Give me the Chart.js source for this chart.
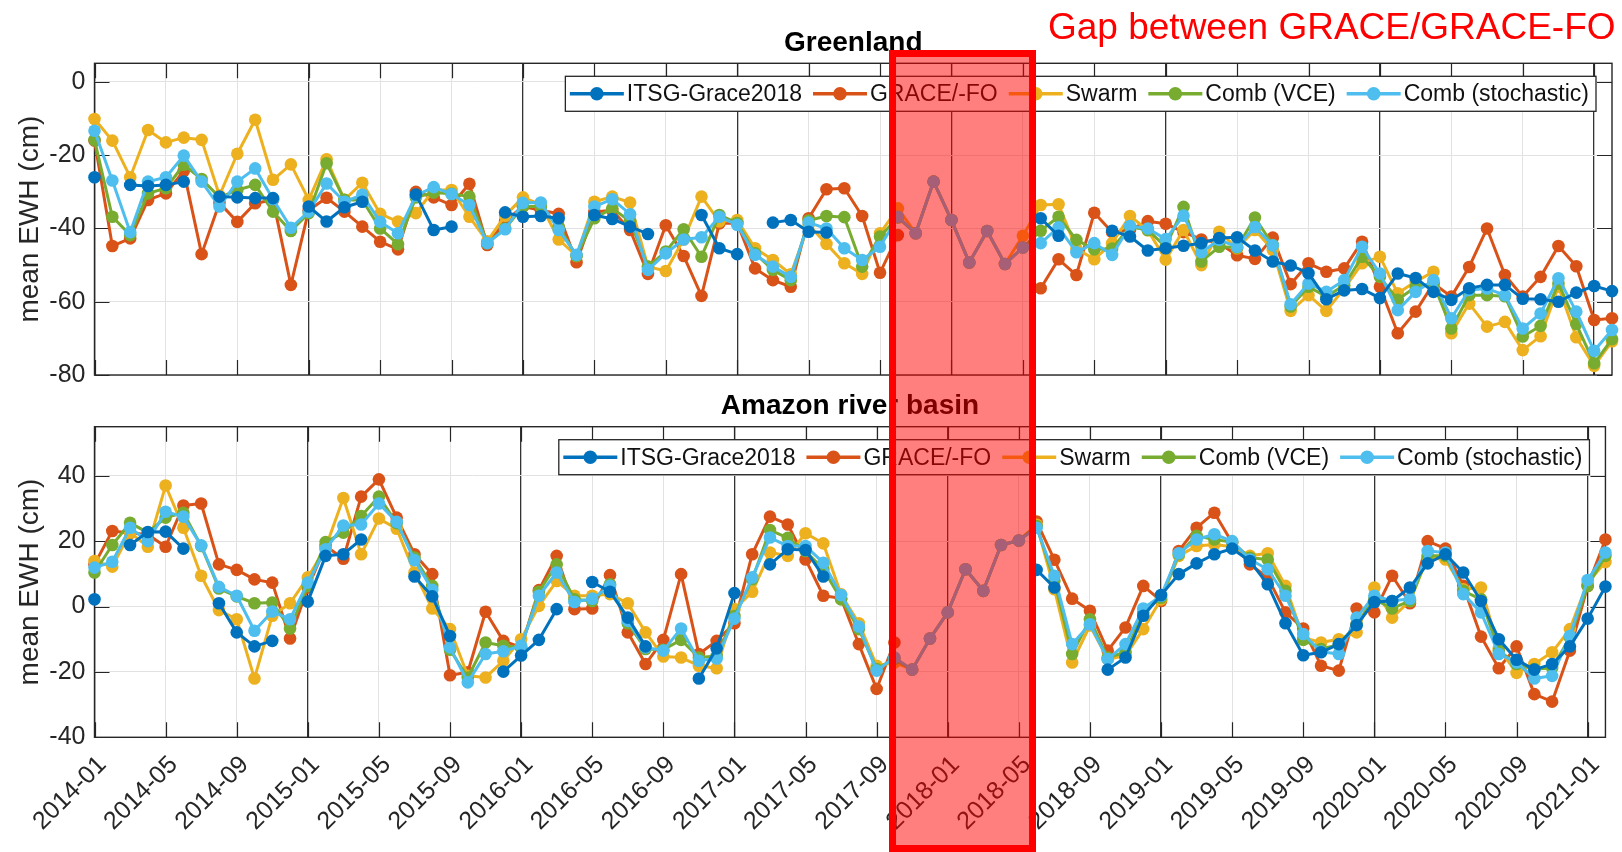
<!DOCTYPE html>
<html>
<head>
<meta charset="utf-8">
<script src="https://cdn.jsdelivr.net/npm/chart.js@4.4.1/dist/chart.umd.min.js"></script>
<style>
  html, body { margin: 0; padding: 0; background: #fff; }
  #wrap { position: relative; width: 1622px; height: 852px; overflow: hidden; background: #fff; }
  #wrap canvas { position: absolute; left: 0; }
  #greenland { top: 0; }
  #amazon { top: 365px; }
  #gap {
    position: absolute; left: 889px; top: 50px; width: 147px; height: 802px;
    box-sizing: border-box; border: 7.5px solid #ff0000; background: rgba(255, 0, 0, 0.5);
  }
</style>
</head>
<body>
<div id="wrap">
  <canvas id="greenland" width="1622" height="400" style="width:1622px;height:400px"></canvas>
  <canvas id="amazon" width="1622" height="487" style="width:1622px;height:487px"></canvas>
  <div id="gap"></div>
</div>
<script>
// monthly solutions, index 0 = 2014-01 ... 85 = 2021-02
const tickLabels = ['2014-01', '2014-05', '2014-09', '2015-01', '2015-05', '2015-09',
  '2016-01', '2016-05', '2016-09', '2017-01', '2017-05', '2017-09', '2018-01', '2018-05',
  '2018-09', '2019-01', '2019-05', '2019-09', '2020-01', '2020-05', '2020-09', '2021-01'];
const tickMonths = tickLabels.map((_, i) => i * 4);
const lastMonth = 85;

const seriesNames = ['ITSG-Grace2018', 'GRACE/-FO', 'Swarm', 'Comb (VCE)', 'Comb (stochastic)'];
const seriesColors = ['#0072BD', '#D95319', '#EDB120', '#77AC30', '#4DBEEE'];
const drawOrder = [0, 4, 3, 2, 1];

// Greenland mean EWH (cm)
const itsgGreenland = [-26, null, -28.1, -28.4, -28.1, -27.2, null, -31.3, -31.5, -31.7,
  -31.7, null, -34, -38.1, -34.2, -32.7, null, null, -30.7, -40.4,
  -39.5, null, null, -35.6, -36.8, -36.6, -37.2, null, -36.3, -37.4,
  -39.5, -41.5, null, null, -36.3, -45.4, -47, null, -38.4, -37.7,
  -40.9, -41.1, null, null, null, null, null, null, null, null,
  null, null, null, -37.2, -42, null, null, -40.6, -42.2, -46,
  -45.4, -44.7, -44, -42.6, -42.4, -46, -49, -50.1, -52.2, -59.3,
  -56.9, -56.5, -59, -52.3, -53.5, -57.3, -59.5, -56.3, -55.4, -55.4,
  -59.2, -59.3, -60, -57.5, -55.7, -57.1];
const graceGreenland = [-16, -44.8, -42.7, -32.2, -30.4, -24.3, -47, -33, -38.2, -33.1,
  -32.2, -55.4, -35, -31.6, -35.4, -39.5, -43.6, -45.7, -30, -31.5,
  -33.6, -27.8, -44.5, -38, -34, -35, -36, -49.2, -35.5, -35,
  -40.4, -52.4, -39.1, -47.5, -58.4, -38.6, -38.5, -50.9, -54.1, -55.9,
  -37.2, -29.3, -29, -36.6, -52.1, -41.8, null, null, null, null,
  null, null, null, -56.3, -48.4, -52.7, -35.7, -41, -40.4, -38,
  -38.7, -41, -43, -44, -47.3, -48.3, -42.5, -55.2, -49.5, -51.8,
  -50.9, -43.6, -55.9, -68.6, -62.7, -55, -58.6, -50.5, -40, -52.7,
  -58.6, -53.2, -44.8, -50.3, -65, -64.5];
const swarmGreenland = [-10.1, -16, -26, -13.1, -16.5, -15.2, -15.8, -31, -19.6, -10.3,
  -26.7, -22.5, -32.2, -21.1, -32.2, -27.5, -36, -38.1, -35.8, -29.5,
  -29.5, -36.8, -43.5, -36.5, -31.5, -33.5, -43, -47.5, -32.7, -31.3,
  -32.9, -50.4, -51.6, -43, -31.3, -38.1, -37.7, -45.4, -48.6, -52.5,
  -39, -44.2, -49.5, -52.4, -41.3, -34.5, -41.3, -27.2, -37.7, -49.3,
  -40.7, -49.7, -42, -33.6, -33.4, -45.5, -48.4, -44, -36.6, -40.5,
  -48.5, -40.4, -50, -40.9, -45.4, -40.4, -45.9, -62.5, -58.2, -62.5,
  -56.4, -49.5, -47.7, -57.7, -54.5, -51.8, -68.6, -60.5, -66.8, -65.5,
  -73.2, -69.4, -55.9, -69.7, -77.5, -70.8];
const vceGreenland = [-15.8, -36.8, -41.8, -30.4, -29, -22.6, -26.5, -31.5, -29.5, -28.1,
  -35.4, -40.7, -35.8, -22.2, -32.2, -32.2, -40, -44.3, -31.5, -30.2,
  -30.5, -31.3, -44, -40, -34, -34, -39.5, -47.5, -37.2, -34.5,
  -38, -50.4, -46.3, -40.2, -47.7, -36.3, -38.5, -46.8, -51.3, -54.1,
  -37.8, -36.6, -36.9, -50.4, -42.2, -37, -41.3, -27.2, -37.7, -49.3,
  -40.7, -49.7, -45.2, -40.6, -36.8, -43.1, -45.7, -45.5, -39.5, -40.4,
  -45, -34.1, -49, -45, -45.2, -37, -44.5, -61.3, -55.9, -58.6,
  -55.5, -47.7, -53.2, -59.5, -55.9, -55, -67.3, -58.2, -58.2, -58.5,
  -69.5, -66.6, -55, -66.1, -76.8, -70.2];
const stochGreenland = [-13.3, -26.9, -41, -27.2, -26, -20.1, -27.2, -34, -27.2, -23.6,
  -32, -39.8, -35.4, -27.7, -32.7, -30.8, -38.2, -41.3, -31, -28.7,
  -30.6, -33.6, -44, -40.2, -33, -32.9, -40.4, -47.2, -34, -32,
  -36.1, -51.3, -46.8, -43, -42.4, -36.8, -39, -47.2, -50.4, -53.2,
  -38.4, -40, -45.4, -48.6, -45, -36.8, -41.3, -27.2, -37.7, -49.3,
  -40.7, -49.7, -45.2, -44, -39.7, -46.5, -44, -47.2, -39.3, -40,
  -42.9, -36.5, -46.5, -43.1, -45, -39.6, -44.6, -60.7, -55, -57.3,
  -54.1, -45, -52.3, -62.3, -57.3, -54.1, -64.5, -56.8, -56.4, -58.2,
  -67.3, -63.2, -53.6, -62.7, -73.4, -67.7];

// Amazon river basin mean EWH (cm)
const itsgAmazon = [2.2, null, 18.8, 22.8, 22.9, 17.7, null, 1, -7.9, -12.2,
  -10.5, null, 1.5, 15.5, 16, 20.5, null, null, 9.2, 3.1,
  -9, null, null, -19.9, -15, -10.2, -0.8, null, 7.5, 4.5,
  -3.4, -12.2, null, null, -22, -12.8, 4.1, null, 12.9, 17.5,
  17.3, 9.2, null, null, null, null, null, null, null, null,
  null, null, null, 11.2, 5.8, null, null, -19.3, -15.6, -2.8,
  3.5, 9.9, 13.2, 16, 17.7, 13.9, 6.8, -5.1, -14.9, -14,
  -11.5, -5.7, 1.4, 1.7, 5.8, 13.2, 16, 10.4, 1.7, -10,
  -16.3, -19.3, -17.6, -12.2, -3.7, 6.1];
const graceAmazon = [12.9, 23.1, 22.5, 22, 18.3, 30.9, 31.5, 12.9, 11.2, 8.3,
  7.3, -9.8, 5.8, 18.5, 14.6, 33.6, 38.9, 27.2, 16, 9.9,
  -21, -20.1, -1.6, -10.5, -12.5, 5, 15.5, -0.8, -0.6, 9.6,
  -7.9, -17.6, -10.2, 9.9, -14.5, -10.5, -5.1, 16, 27.5, 25.1,
  14.4, 3.3, 2.5, -11.5, -25.2, -11, null, null, null, null,
  null, null, null, 26, 14.3, 2.4, -1.3, -13.5, -6.4, 6.3,
  1.7, 17, 24.1, 28.7, 19.5, 12.9, 8.9, -1.8, -6.7, -18.1,
  -19.6, -0.6, -1.8, 9.4, 1, 20, 17.7, 6.3, -9.2, -18.9,
  -12.2, -26.8, -29.1, -13.5, 6.3, 20.5];
const swarmAmazon = [13.9, 12.2, 22.6, 18.3, 37, 24.1, 9.4, -1.1, -3.9, -22,
  -2.8, 1, 8.9, 18, 33.2, 16, 26.9, 23.8, 10.4, -0.6,
  -6.9, -21.2, -21.7, -16.6, -10, 0.2, 7.8, 3.3, 3.3, 3.8,
  1, -7.9, -15.3, -15.6, -18.1, -18.9, -0.8, 4.5, 16.5, 15.5,
  22.4, 19.3, 3.7, -5.1, -18.1, -17.1, -19.3, -9.8, -1.8, 11.4,
  4.8, 18.8, 20.2, 25, 5.3, -17.1, -5.8, -16.1, -15, -6.9,
  2.2, 15.5, 18.5, 19, 18.3, 15.5, 16.3, 6.3, -9.5, -11,
  -10, -7.9, 5.8, -3.4, 1.7, 15, 14.4, 5.3, 5.8, -12.8,
  -20.3, -17.6, -14, -6.9, 7.3, 13.6];
const vceAmazon = [10.4, 18.8, 25.6, 22.6, 27.2, 28.7, 18.5, 5.5, 3.1, 1,
  1.2, -6.7, 6.3, 19.7, 22.6, 27.7, 33.6, 25.5, 15, 6.3,
  -13.2, -21.7, -11, -12, -12.5, 4.5, 12.9, 2.2, 1.7, 6.8,
  -5.1, -13, -13.2, -10.2, -15.6, -15.1, -2.9, 8.3, 23.4, 21,
  17, 11.4, 2.2, -6.9, -19.1, -16, -19.3, -9.8, -1.8, 11.4,
  4.8, 18.8, 20.2, 24.6, 7.9, -14.5, -3.9, -15.6, -14, -1.8,
  2.7, 16, 21.6, 20.5, 19.7, 14.9, 14.4, 4.8, -10.2, -13,
  -11.7, -5.4, 2.2, -0.6, 1.7, 15.5, 15.5, 4.8, 2.2, -13.5,
  -17.6, -19.1, -18.8, -9.5, 6.3, 15.5];
const stochAmazon = [11.9, 13.7, 24.1, 20, 29, 27.5, 18.7, 6, 3.3, -7.4,
  -1.5, -3.9, 7.3, 17.5, 24.8, 25.1, 31.5, 25.9, 14.2, 5.1,
  -12.5, -23.2, -14.5, -13.7, -12, 3.3, 10.4, 1.4, 2.4, 6.3,
  -4.4, -12.5, -13.5, -6.7, -16.6, -15.9, -3.7, 8.9, 21.1, 18.5,
  18.5, 13.4, 3.5, -6.1, -19.6, -15.6, -19.3, -9.8, -1.8, 11.4,
  4.8, 18.8, 20.2, 24.1, 9.4, -11.5, -5.4, -16.1, -11.5, -0.6,
  3.3, 16.3, 20.5, 22.1, 20, 14.4, 11.4, 3.3, -8.4, -13.8,
  -14.5, -3.4, 3.3, 1.7, 2.4, 17, 16.5, 3.8, -1.8, -14.5,
  -17.1, -22, -21.2, -9, 8.1, 16.5];

const FONT = '"Liberation Sans", Arial, Helvetica, sans-serif';
const AXIS_COLOR = '#262626';

// axes box, inward tick marks, title, y label and the boxed legend
function panelDecor(title) {
  return {
    id: 'panelDecor',
    beforeDatasetsDraw(chart) {
      const { ctx, chartArea: a, scales } = chart;
      ctx.save();
      ctx.strokeStyle = AXIS_COLOR;
      ctx.lineWidth = 1.2;
      const tl = 15;
      ctx.beginPath();
      scales.x.ticks.forEach(t => {
        const x = Math.round(scales.x.getPixelForValue(t.value)) + 0.5;
        ctx.moveTo(x, a.bottom); ctx.lineTo(x, a.bottom - tl);
        ctx.moveTo(x, a.top); ctx.lineTo(x, a.top + tl);
      });
      scales.y.ticks.forEach(t => {
        const y = Math.round(scales.y.getPixelForValue(t.value)) + 0.5;
        ctx.moveTo(a.left, y); ctx.lineTo(a.left + tl, y);
        ctx.moveTo(a.right, y); ctx.lineTo(a.right - tl, y);
      });
      ctx.stroke();
      ctx.lineWidth = 1.4;
      ctx.strokeRect(a.left, a.top, a.right - a.left, a.bottom - a.top);
      ctx.restore();
    },
    afterDatasetsDraw(chart) {
      const { ctx, chartArea: a } = chart;
      ctx.save();
      // title
      ctx.fillStyle = '#000';
      ctx.font = 'bold 28px ' + FONT;
      ctx.textAlign = 'center';
      ctx.textBaseline = 'alphabetic';
      ctx.fillText(title, (a.left + a.right) / 2, a.top - 12.5);
      // y label
      ctx.font = '28px ' + FONT;
      ctx.fillStyle = AXIS_COLOR;
      ctx.translate(30, (a.top + a.bottom) / 2);
      ctx.rotate(-Math.PI / 2);
      ctx.textBaseline = 'middle';
      ctx.fillText('mean EWH (cm)', 0, 0);
      ctx.restore();

      // legend
      ctx.save();
      ctx.font = '23px ' + FONT;
      const lineLen = 54, textGap = 3, entryGap = 11, padL = 4.5, padR = 7, h = 35;
      const widths = seriesNames.map(n => ctx.measureText(n).width);
      let total = padL + padR + entryGap * (seriesNames.length - 1);
      widths.forEach(w => { total += lineLen + textGap + w; });
      const right = a.right - 16;
      const left = right - total;
      const top = a.top + 13;
      ctx.fillStyle = '#fff';
      ctx.fillRect(left, top, total, h);
      ctx.strokeStyle = AXIS_COLOR;
      ctx.lineWidth = 1.3;
      ctx.strokeRect(left, top, total, h);
      const cy = top + h / 2;
      let x = left + padL;
      seriesNames.forEach((name, i) => {
        ctx.strokeStyle = seriesColors[i];
        ctx.lineWidth = 3.5;
        ctx.beginPath();
        ctx.moveTo(x, cy); ctx.lineTo(x + lineLen, cy);
        ctx.stroke();
        ctx.fillStyle = seriesColors[i];
        ctx.beginPath();
        ctx.arc(x + lineLen / 2, cy, 6.8, 0, Math.PI * 2);
        ctx.fill();
        x += lineLen + textGap;
        ctx.fillStyle = '#111';
        ctx.textAlign = 'left';
        ctx.textBaseline = 'middle';
        ctx.fillText(name, x, cy + 1);
        x += widths[i] + entryGap;
      });
      ctx.restore();
    }
  };
}

const gapNote = {
  id: 'gapNote',
  afterDraw(chart) {
    const ctx = chart.ctx;
    ctx.save();
    ctx.fillStyle = '#ff0000';
    ctx.font = '37px ' + FONT;
    ctx.textAlign = 'left';
    ctx.textBaseline = 'alphabetic';
    ctx.fillText('Gap between GRACE/GRACE-FO', 1048, 38.5);
    ctx.restore();
  }
};

function makeDatasets(seriesList) {
  return seriesList.map((vals, i) => ({
    label: seriesNames[i],
    data: vals.map((v, m) => ({ x: m, y: v })),
    borderColor: seriesColors[i],
    backgroundColor: seriesColors[i],
    pointBackgroundColor: seriesColors[i],
    pointBorderColor: seriesColors[i],
    pointBorderWidth: 0,
    pointRadius: 6.3,
    pointHoverRadius: 6.3,
    borderWidth: 3,
    borderJoinStyle: 'round',
    tension: 0,
    spanGaps: false,
    clip: false,
    order: drawOrder[i]
  }));
}

function makeOptions(yMin, yMax, yTicks, padTop, xHeight, showXLabels) {
  return {
    responsive: false,
    animation: false,
    events: [],
    layout: { padding: { top: padTop, right: 10, left: 0, bottom: 0 }, autoPadding: false },
    plugins: { legend: { display: false }, tooltip: { enabled: false }, title: { display: false } },
    scales: {
      x: {
        type: 'linear',
        min: 0,
        max: lastMonth,
        afterBuildTicks: s => { s.ticks = tickMonths.map(v => ({ value: v })); },
        afterFit: s => { s.height = xHeight; },
        border: { display: false },
        grid: {
          drawTicks: false,
          color: c => (c.tick && c.tick.value % 12 === 0) ? '#333333' : '#e2e2e2',
          lineWidth: c => (c.tick && c.tick.value % 12 === 0) ? 1.3 : 1
        },
        ticks: {
          display: showXLabels,
          autoSkip: false,
          minRotation: 45,
          maxRotation: 45,
          padding: 13,
          labelOffset: 8,
          color: AXIS_COLOR,
          font: { family: FONT, size: 25 },
          callback: v => tickLabels[tickMonths.indexOf(v)]
        }
      },
      y: {
        min: yMin,
        max: yMax,
        afterBuildTicks: s => { s.ticks = yTicks.map(v => ({ value: v })); },
        afterFit: s => { s.width = 94.5; },
        border: { display: false },
        grid: { drawTicks: false, color: '#e2e2e2', lineWidth: 1 },
        ticks: { padding: 9, color: AXIS_COLOR, font: { family: FONT, size: 25 } }
      }
    }
  };
}

new Chart(document.getElementById('greenland'), {
  type: 'line',
  data: { datasets: makeDatasets([itsgGreenland, graceGreenland, swarmGreenland, vceGreenland, stochGreenland]) },
  options: makeOptions(-80, 5.1, [-80, -60, -40, -20, 0], 63.3, 25, false),
  plugins: [panelDecor('Greenland'), gapNote]
});

new Chart(document.getElementById('amazon'), {
  type: 'line',
  data: { datasets: makeDatasets([itsgAmazon, graceAmazon, swarmAmazon, vceAmazon, stochAmazon]) },
  options: makeOptions(-40, 55, [-40, -20, 0, 20, 40], 61.7, 114.7, true),
  plugins: [panelDecor('Amazon river basin')]
});
</script>
</body>
</html>
